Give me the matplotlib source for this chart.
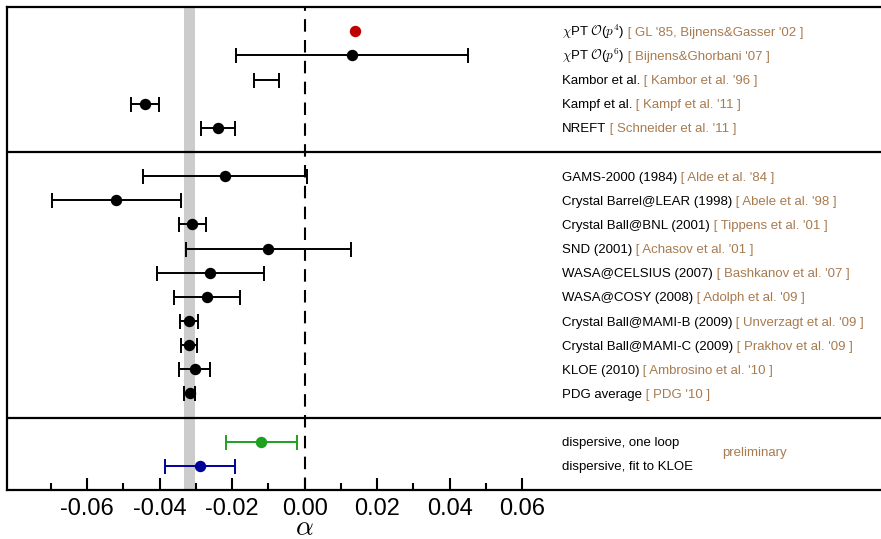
import matplotlib
matplotlib.use("Agg")
import matplotlib.pyplot as plt
import matplotlib.transforms as mtransforms
import numpy as np

plt.rcParams['font.family'] = ['Liberation Sans', 'DejaVu Sans']
plt.rcParams['mathtext.fontset'] = 'cm'

# ---------------- data ----------------
# label parts (black name, brown reference)
names = [
    r"$\chi$PT $\mathcal{O}$($p^{\mathsf{4}}$)",
    r"$\chi$PT $\mathcal{O}$($p^{\mathsf{6}}$)",
    "Kambor et al.",
    "Kampf et al.",
    "NREFT",
    "GAMS-2000 (1984)",
    "Crystal Barrel@LEAR (1998)",
    "Crystal Ball@BNL (2001)",
    "SND (2001)",
    "WASA@CELSIUS (2007)",
    "WASA@COSY (2008)",
    "Crystal Ball@MAMI-B (2009)",
    "Crystal Ball@MAMI-C (2009)",
    "KLOE (2010)",
    "PDG average",
    "dispersive, one loop",
    "dispersive, fit to KLOE",
]
refs = [
    "[ GL '85, Bijnens&Gasser '02 ]",
    "[ Bijnens&Ghorbani '07 ]",
    "[ Kambor et al. '96 ]",
    "[ Kampf et al. '11 ]",
    "[ Schneider et al. '11 ]",
    "[ Alde et al. '84 ]",
    "[ Abele et al. '98 ]",
    "[ Tippens et al. '01 ]",
    "[ Achasov et al. '01 ]",
    "[ Bashkanov et al. '07 ]",
    "[ Adolph et al. '09 ]",
    "[ Unverzagt et al. '09 ]",
    "[ Prakhov et al. '09 ]",
    "[ Ambrosino et al. '10 ]",
    "[ PDG '10 ]",
    "",
    "",
]
rows = [1, 2, 3, 4, 5, 7, 8, 9, 10, 11, 12, 13, 14, 15, 16, 18, 19]
central = [0.014, 0.013, None, -0.044, -0.024, -0.022, -0.052, -0.031, -0.010,
           -0.026, -0.027, -0.032, -0.032, -0.0301, -0.0317, -0.0121, -0.0289]
lower = [None, -0.019, -0.014, -0.0478, -0.0287, -0.0446, -0.0696, -0.0346, -0.0328,
         -0.0406, -0.036, -0.0345, -0.0342, -0.0346, -0.0333, -0.0217, -0.0386]
upper = [None, 0.045, -0.007, -0.0402, -0.0193, 0.0008, -0.0342, -0.0272, 0.0128,
         -0.0112, -0.0177, -0.0295, -0.0297, -0.026, -0.0301, -0.0022, -0.0192]
colors = ['#C00000'] + ['black'] * 14 + ['#1FA01F', '#00009A']

pdg_band = (-0.0333, -0.0301)
separators = [6, 17]
major_ticks = [-0.06, -0.04, -0.02, 0.00, 0.02, 0.04, 0.06]
minor_ticks = [-0.07, -0.05, -0.03, -0.01, 0.01, 0.03, 0.05]

brown = '#A87B4F'

# ---------------- plot ----------------
fig = plt.figure(figsize=(8.81, 5.39), dpi=100)
ax = fig.add_axes([0.0083, 0.0909, 0.9917, 0.896])

xmin, xmax = -0.082, 0.159
ax.set_xlim(xmin, xmax)
ax.set_ylim(20, 0)

ax.axvspan(pdg_band[0], pdg_band[1], color='#CCCCCC', lw=0, zorder=0)
ax.axvline(0, color='black', lw=1.5, ls=(0, (6, 4)), zorder=1)
for s in separators:
    ax.axhline(s, color='black', lw=1.6, zorder=2)

for r, c, lo, hi, col in zip(rows, central, lower, upper, colors):
    if lo is not None:
        if c is None:
            mid = 0.5 * (lo + hi)
            ax.errorbar([mid], [r], xerr=[[mid - lo], [hi - mid]], fmt='none',
                        ecolor=col, elinewidth=1.4, capsize=5.4, capthick=1.4, zorder=3)
        else:
            ax.errorbar([c], [r], xerr=[[c - lo], [hi - c]], fmt='o', color=col,
                        ms=7.2, ecolor=col, elinewidth=1.4, capsize=5.4, capthick=1.4, zorder=3)
    else:
        ax.plot([c], [r], 'o', color=col, ms=7.2, zorder=3)

label_x = 0.071
fs = 9.5
for r, n, ref in zip(rows, names, refs):
    t = ax.text(label_x, r + 0.19, n, fontsize=fs, color='black', va='baseline', ha='left')
    if ref:
        ax.annotate(" " + ref, xy=(1, r + 0.19), xycoords=(t, 'data'), fontsize=fs,
                    color=brown, va='baseline', ha='left')

ax.text(0.1152, 18.45, "preliminary", fontsize=fs, color=brown, va='center', ha='left')

ax.set_xticks(major_ticks)
ax.set_xticklabels([f"{v:.2f}" for v in major_ticks])
ax.set_xticks(minor_ticks, minor=True)
ax.tick_params(axis='x', which='major', direction='in', length=9, width=1.5,
               labelsize=17, pad=6)
ax.tick_params(axis='x', which='minor', direction='in', length=5, width=1.5)
ax.set_yticks([])
for side in ['left', 'top', 'bottom']:
    ax.spines[side].set_linewidth(1.6)
ax.spines['right'].set_visible(False)

trans = mtransforms.blended_transform_factory(ax.transData, fig.transFigure)
ax.text(0.0, 4.0 / 539, r"$\alpha$", fontsize=20, ha='center', va='baseline',
        transform=trans, clip_on=False)

fig.savefig("out.png", dpi=100)
